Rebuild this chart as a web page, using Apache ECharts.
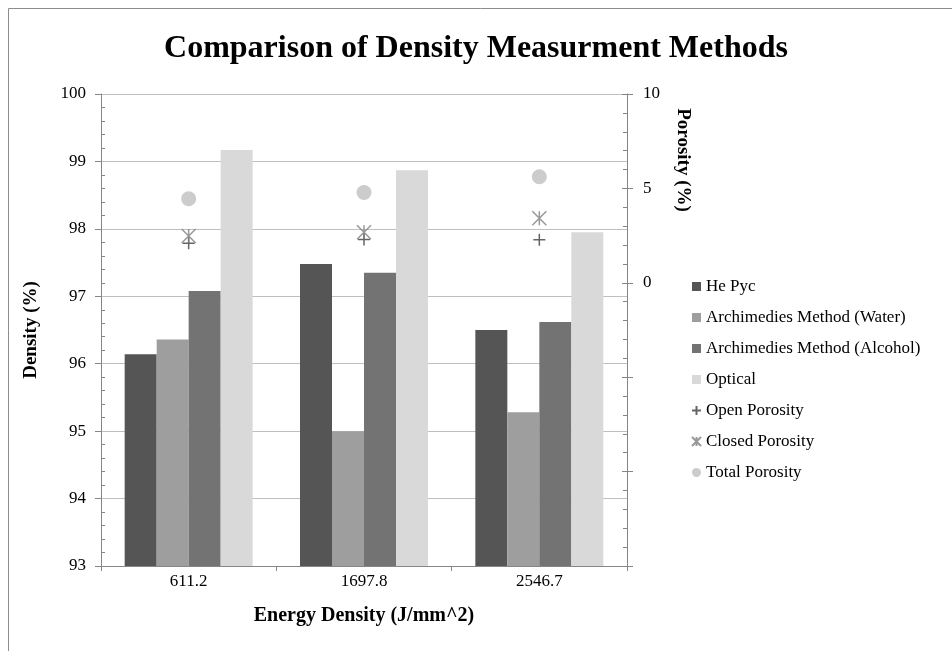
<!DOCTYPE html>
<html>
<head>
<meta charset="utf-8">
<script src="https://cdn.jsdelivr.net/npm/echarts@6/dist/echarts.min.js"></script>
<style>
  html, body { margin: 0; padding: 0; background: #ffffff; }
  #chart { width: 952px; height: 651px; }
</style>
</head>
<body>
<div id="chart"></div>
<script>
// Energy density levels (J/mm^2)
const categories = ['611.2', '1697.8', '2546.7'];

// Density results (%) per measurement method
const hePyc = [96.14, 97.48, 96.50];
const archWater = [96.36, 95.00, 95.28];
const archAlcohol = [97.08, 97.35, 96.62];
const optical = [99.17, 98.87, 97.95];

// Porosity results (%) on the secondary axis
const openPorosity = [2.10, 2.30, 2.28];
const closedPorosity = [2.48, 2.68, 3.42];
const totalPorosity = [4.45, 4.78, 5.62];

// Axis ranges
const densityMin = 93, densityMax = 100, densityStep = 1;
const porosityMin = -15, porosityMax = 10, porosityStep = 5;

const serif = '"Liberation Serif", "Times New Roman", serif';
const axisGray = '#868686';

const chart = echarts.init(document.getElementById('chart'), null, { renderer: 'canvas' });

function barSeries(name, data, color) {
  return {
    name: name,
    type: 'bar',
    yAxisIndex: 0,
    data: data,
    barGap: '0%',
    barCategoryGap: '27%',
    itemStyle: { color: color },
    emphasis: { disabled: true }
  };
}

function markerSeries(name, data, symbol, size, style) {
  return {
    name: name,
    type: 'scatter',
    yAxisIndex: 1,
    data: data,
    symbol: symbol,
    symbolSize: size,
    itemStyle: style,
    emphasis: { disabled: true },
    z: 5
  };
}

// Tick-only companion axis: draws minor ticks (and inner half of major ticks) inside the plot
function tickOverlay(position, min, max, step, majorInside) {
  return {
    type: 'value',
    position: position,
    min: min,
    max: max,
    interval: step,
    axisLine: { show: false },
    axisTick: { show: majorInside, inside: true, length: 5, lineStyle: { color: axisGray } },
    minorTick: { show: true, splitNumber: 5, length: 4, lineStyle: { color: axisGray } },
    splitLine: { show: false },
    axisLabel: { show: false }
  };
}

const option = {
  backgroundColor: '#ffffff',
  animation: false,
  title: {
    text: 'Comparison of Density Measurment Methods',
    left: 'center',
    top: 28,
    textStyle: { fontFamily: serif, fontSize: 32, fontWeight: 'bold', color: '#000' }
  },
  grid: { left: 101, right: 325, top: 94, bottom: 85, containLabel: false },
  legend: {
    orient: 'vertical',
    left: 686,
    top: 273,
    itemWidth: 9,
    itemHeight: 9,
    itemGap: 14,
    textStyle: { fontFamily: serif, fontSize: 17, color: '#000', lineHeight: 17 },
    data: [
      { name: 'He Pyc', icon: 'rect' },
      { name: 'Archimedies Method (Water)', icon: 'rect' },
      { name: 'Archimedies Method (Alcohol)', icon: 'rect' },
      { name: 'Optical', icon: 'rect' },
      'Open Porosity',
      'Closed Porosity',
      'Total Porosity'
    ]
  },
  xAxis: {
    type: 'category',
    data: categories,
    name: 'Energy Density (J/mm^2)',
    nameLocation: 'middle',
    nameGap: 40,
    nameTextStyle: { fontFamily: serif, fontSize: 20, fontWeight: 'bold', color: '#000' },
    axisLine: { onZero: false, lineStyle: { color: axisGray } },
    axisTick: { show: true, length: 5, lineStyle: { color: axisGray } },
    axisLabel: { fontFamily: serif, fontSize: 17, color: '#000', margin: 7 }
  },
  yAxis: [
    {
      type: 'value',
      min: densityMin,
      max: densityMax,
      interval: densityStep,
      name: 'Density (%)',
      nameLocation: 'middle',
      nameGap: 60,
      nameRotate: 90,
      nameTextStyle: { fontFamily: serif, fontSize: 19, fontWeight: 'bold', color: '#000' },
      axisLine: { show: true, lineStyle: { color: axisGray } },
      axisTick: { show: true, length: 6, lineStyle: { color: axisGray } },
      splitLine: { show: true, lineStyle: { color: '#bfbfbf', width: 1 } },
      axisLabel: { fontFamily: serif, fontSize: 17, color: '#000', margin: 15 }
    },
    {
      type: 'value',
      position: 'right',
      min: porosityMin,
      max: porosityMax,
      interval: porosityStep,
      axisLine: { show: true, lineStyle: { color: axisGray } },
      axisTick: { show: true, length: 6, lineStyle: { color: axisGray } },
      splitLine: { show: false },
      axisLabel: {
        fontFamily: serif, fontSize: 17, color: '#000', margin: 16,
        formatter: function (v) { return v >= 0 ? String(v) : ''; }
      }
    },
    tickOverlay('left', densityMin, densityMax, densityStep, false),
    tickOverlay('right', porosityMin, porosityMax, porosityStep, true)
  ],
  graphic: [
    {
      type: 'rect',
      silent: true,
      shape: { x: 8.5, y: 8.5, width: 1000, height: 1000 },
      style: { fill: 'none', stroke: '#8c8c8c', lineWidth: 1 }
    },
    {
      type: 'text',
      silent: true,
      x: 683,
      y: 160,
      rotation: -Math.PI / 2,
      style: {
        text: 'Porosity (%)',
        font: 'bold 19px ' + serif,
        fill: '#000',
        align: 'center',
        verticalAlign: 'middle'
      }
    }
  ],
  series: [
    barSeries('He Pyc', hePyc, '#555555'),
    barSeries('Archimedies Method (Water)', archWater, '#9e9e9e'),
    barSeries('Archimedies Method (Alcohol)', archAlcohol, '#737373'),
    barSeries('Optical', optical, '#d9d9d9'),
    markerSeries('Open Porosity', openPorosity, 'path://M5,0L5,10M0,5L10,5', 12,
      { color: 'rgba(0,0,0,0)', borderColor: '#3f3f3f', borderWidth: 1.5 }),
    markerSeries('Closed Porosity', closedPorosity, 'path://M0,0L10,10M10,0L0,10M5,0L5,10', 14,
      { color: 'rgba(0,0,0,0)', borderColor: '#7f7f7f', borderWidth: 1.5 }),
    markerSeries('Total Porosity', totalPorosity, 'circle', 15,
      { color: '#bfbfbf' })
  ]
};

chart.setOption(option);
</script>
</body>
</html>
